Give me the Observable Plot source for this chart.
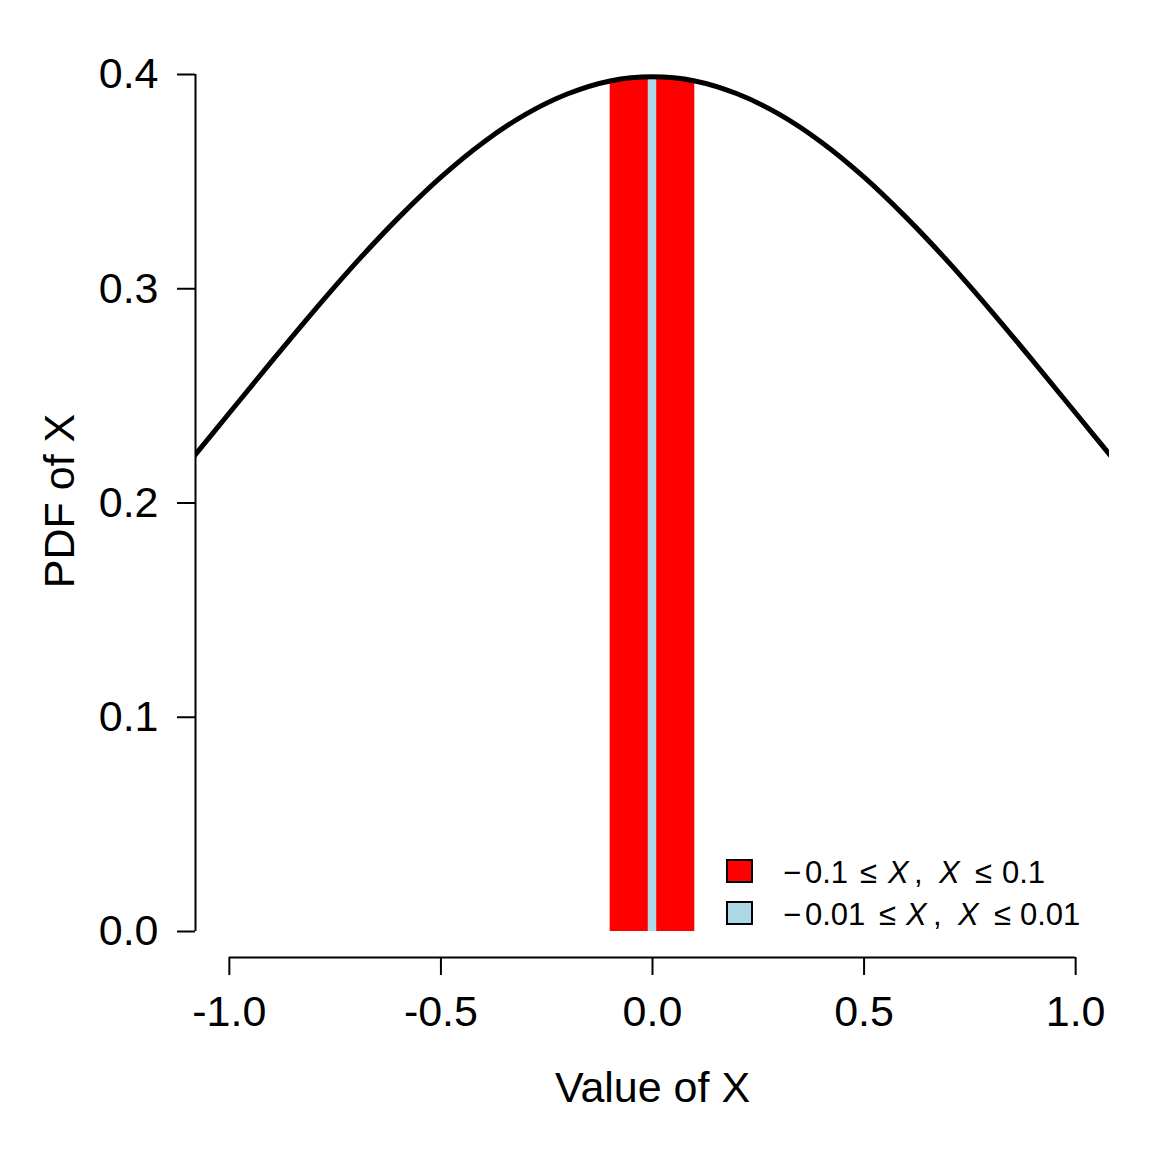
<!DOCTYPE html>
<html>
<head>
<meta charset="utf-8">
<script src="https://cdn.jsdelivr.net/npm/d3@7"></script>
<script src="https://cdn.jsdelivr.net/npm/@observablehq/plot@0.6"></script>
<style>
  body { margin: 0; background: #fff; }
  #chart { position: relative; width: 1152px; height: 1152px; }
</style>
</head>
<body>
<div id="chart"></div>
<script>
// Curve points (value of X, PDF of X)
const curveX = [-1.1, -1.0, -0.9, -0.8, -0.7, -0.6, -0.5, -0.4, -0.3, -0.2, -0.1, 0.0,
                 0.1, 0.2, 0.3, 0.4, 0.5, 0.6, 0.7, 0.8, 0.9, 1.0, 1.1];
const curveY = [0.2179, 0.2420, 0.2661, 0.2897, 0.3123, 0.3332, 0.3521, 0.3683, 0.3814, 0.3910, 0.3970, 0.3989,
                0.3970, 0.3910, 0.3814, 0.3683, 0.3521, 0.3332, 0.3123, 0.2897, 0.2661, 0.2420, 0.2179];
// Shaded intervals
const redX = [-0.1, -0.05, 0.0, 0.05, 0.1];
const redY = [0.3970, 0.3984, 0.3989, 0.3984, 0.3970];
const blueX = [-0.01, 0.0, 0.01];
const blueY = [0.3989, 0.3989, 0.3989];
// Legend label pieces (X pieces are italic)
const legendLabels = [["\u2212", "0.1", "\u2264", "X", ",", "X", "\u2264", "0.1"],
                      ["\u2212", "0.01", "\u2264", "X", ",", "X", "\u2264", "0.01"]];
const legendColors = ["#ff0000", "#add8e6"];
const xTicks = [-1.0, -0.5, 0.0, 0.5, 1.0];
const yTicks = [0.0, 0.1, 0.2, 0.3, 0.4];
const xDomain = [-1.08, 1.08];
const yDomain = [-0.012135, 0.4];

// layout (pixel offsets of legend pieces)
const legendPieceX = [[783, 805, 860, 888, 914, 939, 975, 1002],
                      [783, 805, 879, 906, 933, 958, 994, 1020]];

const curve = curveX.map((x, i) => ({x, y: curveY[i]}));
const red = redX.map((x, i) => ({x, y: redY[i]}));
const blue = blueX.map((x, i) => ({x, y: blueY[i]}));

const font = "'Liberation Sans', Arial, Helvetica, sans-serif";
const fs = 43;

const plot = Plot.plot({
  width: 1152,
  height: 1152,
  marginLeft: 195,
  marginRight: 43,
  marginTop: 74,
  marginBottom: 195,
  style: {fontFamily: font, fontSize: fs + "px", color: "#000", background: "#fff"},
  x: {domain: xDomain},
  y: {domain: yDomain},
  marks: [
    Plot.areaY(red, {x: "x", y1: 0, y2: "y", fill: legendColors[0], curve: "catmull-rom"}),
    Plot.areaY(blue, {x: "x", y1: 0, y2: "y", fill: legendColors[1]}),
    Plot.line(curve, {x: "x", y: "y", stroke: "#000", strokeWidth: 5, curve: "catmull-rom", clip: true}),
    // y axis
    Plot.ruleX([xDomain[0]], {y1: yTicks[0], y2: yTicks[yTicks.length - 1], stroke: "#000", strokeWidth: 2}),
    Plot.axisY({ticks: yTicks, tickSize: 18, tickPadding: 19, tickFormat: d => d.toFixed(1),
                fontSize: fs, strokeWidth: 2, label: null, stroke: "#000"}),
    // x axis
    Plot.ruleY([yDomain[0]], {x1: d3.min(xTicks), x2: d3.max(xTicks), stroke: "#000", strokeWidth: 2}),
    Plot.axisX({ticks: xTicks, tickSize: 18, tickPadding: 20, tickFormat: d => d.toFixed(1),
                fontSize: fs, strokeWidth: 2, label: null, stroke: "#000"}),
    Plot.text(["Value of X"], {frameAnchor: "bottom", dy: 131, text: d => d, fontSize: fs,
                               textAnchor: "middle", lineAnchor: "middle", fill: "#000"}),
    Plot.text(["PDF of X"], {frameAnchor: "left", dx: -135, dy: -15, rotate: -90, text: d => d, fontSize: fs,
                             textAnchor: "middle", lineAnchor: "middle", fill: "#000"})
  ]
});

document.getElementById("chart").appendChild(plot);

// Legend inside the plot region (bottom right)
const svg = d3.select(plot);
const lg = svg.append("g").attr("font-family", font).attr("font-size", 31).attr("fill", "#000")
  .attr("text-anchor", "start");
legendLabels.forEach((parts, i) => {
  const baseline = 883 + i * 42;
  lg.append("rect").attr("x", 727).attr("y", baseline - 23).attr("width", 25).attr("height", 22)
    .attr("fill", legendColors[i]).attr("stroke", "#000").attr("stroke-width", 2);
  parts.forEach((p, j) => {
    const t = lg.append("text").attr("x", legendPieceX[i][j]).attr("y", baseline).text(p);
    if (p === "X") t.attr("font-style", "italic");
  });
});
</script>
</body>
</html>
